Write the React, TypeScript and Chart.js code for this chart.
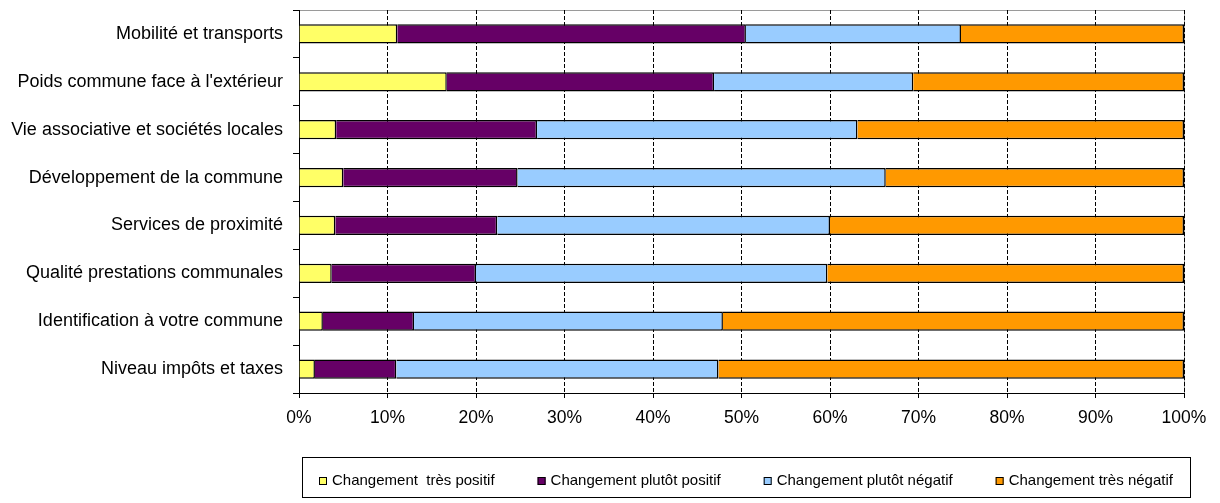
import { useEffect, useRef } from 'react';
import { Chart, registerables } from 'chart.js';

Chart.register(...registerables);

const categories = [
  'Mobilité et transports',
  "Poids commune face à l'extérieur",
  'Vie associative et sociétés locales',
  'Développement de la commune',
  'Services de proximité',
  'Qualité prestations communales',
  'Identification à votre commune',
  'Niveau impôts et taxes',
];

const tresPositif = [11.1, 16.7, 4.2, 5.0, 4.1, 3.7, 2.7, 1.8];
const plutotPositif = [39.4, 30.2, 22.7, 19.7, 18.3, 16.3, 10.3, 9.2];
const plutotNegatif = [24.3, 22.5, 36.2, 41.6, 37.6, 39.7, 34.9, 36.4];
const tresNegatif = [25.2, 30.6, 36.9, 33.7, 40.0, 40.3, 52.1, 52.6];

const seriesLabels = [
  'Changement  très positif',
  'Changement plutôt positif',
  'Changement plutôt négatif',
  'Changement très négatif',
];
const seriesColors = ['#FFFF66', '#660066', '#99CCFF', '#FF9900'];

const FONT = '"Liberation Sans", Arial, sans-serif';

const framePlugin = {
  id: 'frame',
  beforeDraw(chart: any) {
    const { ctx, chartArea: a } = chart;
    ctx.save();
    ctx.fillStyle = '#fff';
    ctx.fillRect(0, 0, chart.width, chart.height);
    ctx.strokeStyle = '#9a9a9a';
    ctx.lineWidth = 1;
    ctx.strokeRect(Math.round(a.left) + 0.5, Math.round(a.top) + 0.5, Math.round(a.right - a.left), Math.round(a.bottom - a.top));
    ctx.restore();
  },
};

const legendPlugin = {
  id: 'boxLegend',
  afterDraw(chart: any) {
    const { ctx, chartArea: a } = chart;
    const left = Math.round(a.left) + 3;
    const right = Math.round(a.right) + 6;
    const top = 457;
    const bottom = 497;
    ctx.save();
    ctx.strokeStyle = '#000';
    ctx.lineWidth = 1;
    ctx.strokeRect(left + 0.5, top + 0.5, right - left, bottom - top);
    ctx.font = `15px ${FONT}`;
    ctx.textBaseline = 'middle';
    ctx.fillStyle = '#000';
    const box = 8;
    const gapBoxText = 5;
    const gapItems = 43;
    const datasets = chart.data.datasets;
    const widths = datasets.map((d: any) => box + gapBoxText + ctx.measureText(d.label).width);
    const total = widths.reduce((s: number, w: number) => s + w, 0) + gapItems * (datasets.length - 1);
    let x = Math.round((left + right) / 2 - total / 2);
    const cy = 481;
    datasets.forEach((d: any, i: number) => {
      ctx.fillStyle = d.backgroundColor;
      ctx.fillRect(x, cy - box / 2, box, box);
      ctx.strokeStyle = '#000';
      ctx.strokeRect(x + 0.5, cy - box / 2 + 0.5, box - 1, box - 1);
      ctx.fillStyle = '#000';
      ctx.fillText(d.label, x + box + gapBoxText, cy);
      x += widths[i] + gapItems;
    });
    ctx.restore();
  },
};

export default function App() {
  const canvasRef = useRef<HTMLCanvasElement | null>(null);

  useEffect(() => {
    if (!canvasRef.current) return;
    const values = [tresPositif, plutotPositif, plutotNegatif, tresNegatif];
    const chart = new Chart(canvasRef.current, {
      type: 'bar',
      data: {
        labels: categories,
        datasets: values.map((v, i) => ({
          label: seriesLabels[i],
          data: v,
          backgroundColor: seriesColors[i],
          borderColor: '#000',
          borderWidth: 1.5,
          borderSkipped: 'start',
          categoryPercentage: 1,
          barPercentage: 0.4,
        })),
      },
      options: {
        indexAxis: 'y',
        animation: false,
        responsive: false,
        maintainAspectRatio: false,
        layout: { padding: { left: 0, top: 10, right: 36, bottom: 80 } },
        plugins: {
          legend: { display: false },
          tooltip: { enabled: false },
        },
        scales: {
          x: {
            stacked: true,
            min: 0,
            max: 100,
            afterFit: (scale: any) => {
              scale.height = 30;
            },
            ticks: {
              stepSize: 10,
              callback: (v: any) => `${v}%`,
              color: '#000',
              font: { family: FONT, size: 17.5 },
              padding: 10,
              maxRotation: 0,
              autoSkip: false,
            },
            grid: {
              color: '#000',
              lineWidth: 1,
              drawTicks: true,
              tickLength: 5,
              tickColor: '#000',
            },
            border: { display: true, color: '#000', width: 1, dash: [4, 2] },
          },
          y: {
            stacked: true,
            afterFit: (scale: any) => {
              scale.width = 299;
              scale.paddingTop = 0;
              scale.paddingBottom = 0;
            },
            ticks: {
              color: '#000',
              font: { family: FONT, size: 18 },
              padding: 10,
              autoSkip: false,
            },
            grid: {
              offset: true,
              drawOnChartArea: false,
              drawTicks: true,
              tickLength: 6,
              color: '#000',
            },
            border: { display: true, color: '#000', width: 1 },
          },
        },
      },
      plugins: [framePlugin, legendPlugin],
    } as any);
    return () => chart.destroy();
  }, []);

  return (
    <div style={{ position: 'fixed', left: 0, top: 0, width: 1220, height: 503, background: '#fff' }}>
      <canvas ref={canvasRef} width={1220} height={503} style={{ width: 1220, height: 503, display: 'block' }} />
    </div>
  );
}
